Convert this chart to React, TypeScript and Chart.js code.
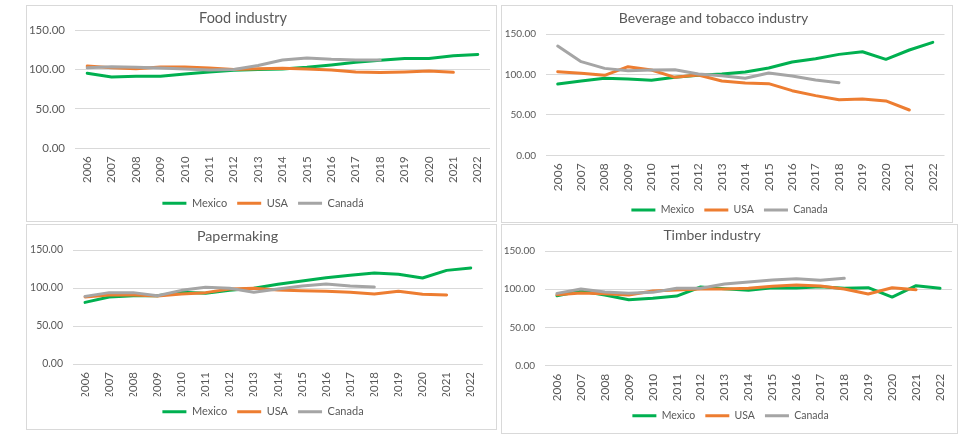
import React, { useEffect, useRef } from "react";
import { Chart, registerables } from "chart.js";

Chart.register(...registerables);

const FONT = "Lato, 'Open Sans', sans-serif";
const TEXT = "#595959";
const GRID = "#d9d9d9";
const GREEN = "#00B050";
const ORANGE = "#ED7D31";
const GRAY = "#A5A5A5";
const LEGEND_PAD = 10;

const years = ["2006", "2007", "2008", "2009", "2010", "2011", "2012", "2013", "2014", "2015", "2016", "2017", "2018", "2019", "2020", "2021", "2022"];
const yTicks = [0, 50, 100, 150];

const foodMexico = [95.1, 90.4, 91.3, 91.3, 94.2, 96.7, 98.9, 100.0, 100.5, 102.7, 105.6, 109.0, 111.5, 114.0, 114.0, 117.4, 119.0];
const foodUSA = [104.3, 102.0, 101.0, 103.0, 103.0, 101.8, 100.0, 101.0, 101.4, 100.5, 99.3, 96.7, 96.0, 96.7, 98.0, 96.3, null];
const foodCanada = [102.0, 103.5, 102.7, 101.8, 100.5, 99.3, 100.0, 105.0, 112.0, 114.5, 112.8, 112.0, 112.0, null, null, null, null];

const bevMexico = [88.2, 91.9, 95.2, 94.4, 92.7, 96.4, 98.9, 100.5, 103.0, 108.0, 115.4, 119.5, 124.8, 128.1, 118.7, 130.2, 139.7];
const bevUSA = [103.4, 101.4, 98.9, 109.6, 105.5, 96.4, 99.3, 91.9, 89.4, 88.6, 79.9, 73.8, 68.8, 69.6, 67.2, 56.0, null];
const bevCanada = [135.1, 115.8, 107.5, 104.7, 105.5, 105.9, 100.5, 98.5, 95.2, 101.8, 98.1, 93.1, 89.8, null, null, null, null];

const paperMexico = [81.1, 88.2, 89.9, 89.9, 94.3, 93.0, 96.9, 99.6, 104.8, 109.2, 113.6, 116.7, 119.7, 118.0, 113.2, 123.2, 126.3];
const paperUSA = [88.2, 90.8, 90.8, 89.5, 92.1, 93.9, 98.7, 99.6, 97.4, 96.5, 95.6, 94.3, 92.1, 95.6, 91.7, 90.8, null];
const paperCanada = [89.0, 93.9, 93.9, 89.9, 96.9, 100.9, 99.6, 94.3, 98.7, 102.6, 105.3, 102.6, 101.3, null, null, null, null];

const timberMexico = [91.6, 97.7, 92.5, 86.3, 88.1, 91.1, 102.9, 100.7, 98.6, 102.0, 101.6, 103.4, 101.2, 102.0, 89.8, 104.7, 101.2];
const timberUSA = [92.9, 95.1, 94.2, 92.5, 97.7, 99.0, 100.3, 100.3, 101.2, 103.8, 105.5, 104.2, 100.3, 93.8, 102.0, 99.4, null];
const timberCanada = [94.6, 100.3, 96.4, 94.6, 95.9, 101.2, 101.2, 106.8, 109.5, 112.1, 113.8, 111.6, 114.3, null, null, null, null];

type Box = { x: number; y: number; w: number; h: number };
type Area = { left: number; right: number; top: number; bottom: number };
type Sizes = { title: number; xTick: number; yTick: number; legend: number };

const shiftPlugin = {
  id: "shiftBlocks",
  afterLayout(chart: any, _args: any, opts: any) {
    const t = chart.titleBlock;
    if (t && opts.titleShift) {
      t.left += opts.titleShift;
      t.right += opts.titleShift;
    }
    const l = chart.legend;
    if (l && opts.legendShift) {
      l.left += opts.legendShift;
      l.right += opts.legendShift;
    }
  },
};

function Panel(props: {
  title: string;
  mexico: (number | null)[];
  usa: (number | null)[];
  canada: (number | null)[];
  canadaLabel: string;
  box: Box;
  area: Area;
  sizes: Sizes;
  titleX: number;
  titleY: number;
  legendX: number;
  legendY: number;
}) {
  const { box, area, sizes } = props;
  const ref = useRef<HTMLCanvasElement>(null);
  const ox = box.x + 1;
  const oy = box.y + 1;
  const cw = box.w - 2;
  const L = area.left - ox;
  const R = area.right - ox;
  const T = area.top - oy;
  const B = area.bottom - oy;
  const legendCY = props.legendY - oy;
  const legendH = sizes.legend + LEGEND_PAD + 10;
  const belowCenter = legendH - LEGEND_PAD - sizes.legend / 2;
  const ch = Math.ceil(legendCY + belowCenter + 1);
  const pb = ch - legendCY - belowCenter;
  const pr = cw - R;
  const legendTop = ch - pb - legendH;
  const xh = legendTop - B;
  const titleLH = sizes.title * 1.2;
  const titlePadTop = props.titleY - oy - titleLH / 2;
  const titlePadBottom = T - titlePadTop - titleLH;
  const center = (cw - pr) / 2;

  useEffect(() => {
    if (!ref.current) return;
    const chart = new Chart(ref.current, {
      type: "line",
      data: {
        labels: years,
        datasets: [
          { label: "Mexico", data: props.mexico, borderColor: GREEN, backgroundColor: GREEN, order: 3 },
          { label: "USA", data: props.usa, borderColor: ORANGE, backgroundColor: ORANGE, order: 2 },
          { label: props.canadaLabel, data: props.canada, borderColor: GRAY, backgroundColor: GRAY, order: 1 },
        ],
      },
      plugins: [shiftPlugin],
      options: {
        responsive: false,
        animation: false,
        layout: { padding: { left: 0, right: pr, top: 0, bottom: pb } },
        elements: {
          line: { borderWidth: 3, tension: 0, borderJoinStyle: "round", borderCapStyle: "round" },
          point: { radius: 0, hoverRadius: 0 },
        },
        scales: {
          x: {
            offset: true,
            grid: { display: false, drawTicks: false },
            border: { display: false },
            ticks: {
              autoSkip: false,
              minRotation: 90,
              maxRotation: 90,
              padding: 8,
              color: TEXT,
              font: { family: FONT, size: sizes.xTick },
            },
            afterFit: (s: any) => {
              s.height = xh;
              s.paddingLeft = 0;
              s.paddingRight = 0;
            },
          },
          y: {
            min: 0,
            max: 150,
            afterBuildTicks: (s: any) => {
              s.ticks = yTicks.map((v) => ({ value: v }));
            },
            grid: { color: GRID, lineWidth: 1, drawTicks: false },
            border: { display: false },
            ticks: {
              padding: 10,
              color: TEXT,
              font: { family: FONT, size: sizes.yTick },
              callback: (v: any) => Number(v).toFixed(2),
            },
            afterFit: (s: any) => {
              s.width = L;
              s.paddingTop = 0;
              s.paddingBottom = 0;
            },
          },
        },
        plugins: {
          tooltip: { enabled: false },
          title: {
            display: true,
            text: props.title,
            color: TEXT,
            font: { family: FONT, size: sizes.title, weight: "normal", lineHeight: 1.2 },
            padding: { top: titlePadTop, bottom: titlePadBottom },
          },
          legend: {
            display: true,
            position: "bottom",
            labels: {
              boxWidth: 24,
              boxHeight: 3,
              padding: LEGEND_PAD,
              color: TEXT,
              font: { family: FONT, size: sizes.legend },
              generateLabels: (c: any) =>
                Chart.defaults.plugins.legend.labels
                  .generateLabels(c)
                  .map((l: any) => ({ ...l, lineWidth: 0 }))
                  .sort((a: any, b: any) => a.datasetIndex - b.datasetIndex),
            },
          },
          shiftBlocks: {
            titleShift: props.titleX - ox - center,
            legendShift: props.legendX - ox - center,
          },
        } as any,
      },
    });
    return () => chart.destroy();
  }, []);

  return (
    <>
      <div
        style={{
          position: "absolute",
          left: box.x,
          top: box.y,
          width: box.w,
          height: box.h,
          border: "1px solid #d9d9d9",
          boxSizing: "border-box",
          background: "#fff",
        }}
      />
      <canvas
        ref={ref}
        width={cw}
        height={ch}
        style={{ position: "absolute", left: ox, top: oy, width: cw, height: ch }}
      />
    </>
  );
}

export default function App() {
  return (
    <div style={{ position: "absolute", left: 0, top: 0, width: 980, height: 437, background: "#fff", overflow: "hidden" }}>
      <Panel
        title="Food industry"
        mexico={foodMexico}
        usa={foodUSA}
        canada={foodCanada}
        canadaLabel="Canadá"
        box={{ x: 26, y: 5, w: 471, h: 217 }}
        area={{ left: 75, right: 490, top: 30, bottom: 148.3 }}
        sizes={{ title: 14.5, xTick: 11.5, yTick: 11.5, legend: 11 }}
        titleX={243}
        titleY={18.3}
        legendX={263}
        legendY={203.3}
      />
      <Panel
        title="Beverage and tobacco industry"
        mexico={bevMexico}
        usa={bevUSA}
        canada={bevCanada}
        canadaLabel="Canada"
        box={{ x: 501, y: 5, w: 452, h: 218 }}
        area={{ left: 546, right: 944.5, top: 34, bottom: 155.3 }}
        sizes={{ title: 14, xTick: 12, yTick: 10, legend: 10.5 }}
        titleX={713.5}
        titleY={18.3}
        legendX={729.5}
        legendY={210}
      />
      <Panel
        title="Papermaking"
        mexico={paperMexico}
        usa={paperUSA}
        canada={paperCanada}
        canadaLabel="Canada"
        box={{ x: 26, y: 224, w: 471, h: 206 }}
        area={{ left: 73, right: 482.8, top: 250, bottom: 364 }}
        sizes={{ title: 14.3, xTick: 11.5, yTick: 10.5, legend: 11 }}
        titleX={237.5}
        titleY={236}
        legendX={263}
        legendY={411.7}
      />
      <Panel
        title="Timber industry"
        mexico={timberMexico}
        usa={timberUSA}
        canada={timberCanada}
        canadaLabel="Canada"
        box={{ x: 501, y: 224, w: 457, h: 210 }}
        area={{ left: 545, right: 952, top: 251, bottom: 365.7 }}
        sizes={{ title: 14, xTick: 12, yTick: 10, legend: 10.5 }}
        titleX={712}
        titleY={235}
        legendX={730.5}
        legendY={415.7}
      />
    </div>
  );
}
